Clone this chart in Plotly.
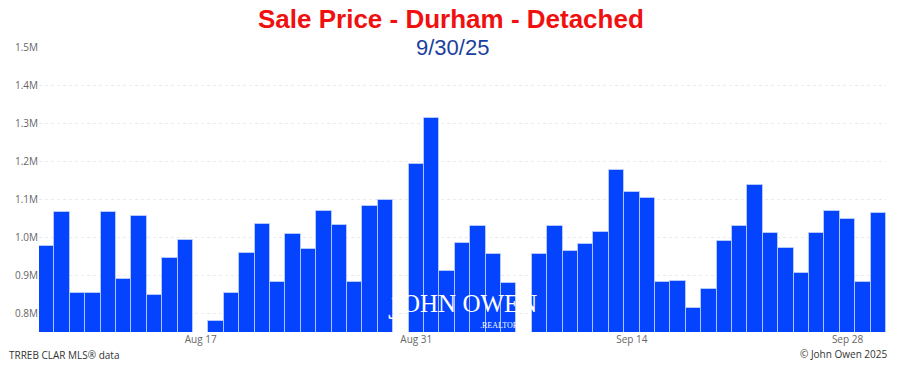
import pandas as pd
import plotly.graph_objects as go

# ---- data ----
dates = pd.date_range("2025-08-07", "2025-09-30", freq="D")
prices = [
    976000, 1065000, 853000, 853000, 1065000, 890000, 1056000, 848000, 946000, 991000,
    None,
    778000, 853000, 957000, 1033000, 881000, 1007000, 969000, 1068000, 1032000, 882000, 1081000, 1097000,
    None,
    1193000, 1312000, 910000, 983000, 1030000, 955000, 880000,
    None,
    954000, 1028000, 962000, 981000, 1013000, 1176000, 1119000, 1102000, 881000, 884000,
    813000, 864000, 989000, 1030000, 1137000, 1010000, 972000, 906000, 1010000, 1069000,
    1048000, 881000, 1062000,
]
x_tick_dates = ["2025-08-17", "2025-08-31", "2025-09-14", "2025-09-28"]
x_tick_labels = ["Aug 17", "Aug 31", "Sep 14", "Sep 28"]
y_tick_vals = [800000, 900000, 1000000, 1100000, 1200000, 1300000, 1400000, 1500000]
y_tick_labels = ["0.8M", "0.9M", "1.0M", "1.1M", "1.2M", "1.3M", "1.4M", "1.5M"]

title_text = "Sale Price - Durham - Detached"
date_text = "9/30/25"
source_text = "TRREB CLAR MLS\u00ae data"
copyright_text = "\u00a9 John Owen 2025"

fig = go.Figure(
    go.Bar(
        x=dates,
        y=prices,
        marker=dict(color="#0444FF", line=dict(color="rgba(200,215,255,0.75)", width=1)),
        hoverinfo="x+y",
    )
)

W, H = 897, 366
L, R, T, B = 39, 11, 47, 34

fig.update_layout(
    width=W,
    height=H,
    margin=dict(l=L, r=R, t=T, b=B),
    paper_bgcolor="white",
    plot_bgcolor="white",
    bargap=0,
    showlegend=False,
    font=dict(family="Open Sans", size=10, color="#666666"),
    xaxis=dict(
        type="date",
        range=["2025-08-06 12:00", "2025-09-30 12:00"],
        tickvals=x_tick_dates,
        ticktext=x_tick_labels,
        showgrid=False,
        zeroline=False,
        showline=False,
        ticks="",
        tickfont=dict(family="Open Sans", size=10, color="#666666"),
    ),
    yaxis=dict(
        range=[750000, 1500000],
        tickvals=y_tick_vals,
        ticktext=y_tick_labels,
        showgrid=True,
        gridcolor="#ebebeb",
        griddash="dot",
        gridwidth=1,
        zeroline=False,
        showline=False,
        ticks="",
        tickfont=dict(family="Open Sans", size=10, color="#666666"),
    ),
)

fig.add_annotation(
    text=title_text, xref="paper", yref="paper", x=0.487, y=1.097,
    xanchor="center", yanchor="middle", showarrow=False,
    font=dict(family="Liberation Sans", size=26, color="#F01010", weight="bold"),
)
fig.add_annotation(
    text=date_text, xref="paper", yref="paper", x=0.488, y=1.0,
    xanchor="center", yanchor="middle", showarrow=False,
    font=dict(family="Liberation Sans", size=22, color="#1B3F9E"),
)
fig.add_annotation(
    text=source_text, xref="paper", yref="paper", x=-0.038, y=-0.082,
    xanchor="left", yanchor="middle", showarrow=False,
    font=dict(family="Open Sans", size=10, color="#333333"),
)
fig.add_annotation(
    text=copyright_text, xref="paper", yref="paper", x=1.005, y=-0.076,
    xanchor="right", yanchor="middle", showarrow=False,
    font=dict(family="Open Sans", size=10, color="#333333"),
)
# watermark logo (text approximation)
fig.add_annotation(
    text="J", xref="paper", yref="paper",
    x=0.41, y=0.015, xanchor="left", yanchor="bottom", showarrow=False,
    font=dict(family="Liberation Serif", size=32, color="white"),
)
fig.add_annotation(
    text="OHN OWEN", xref="paper", yref="paper",
    x=0.426, y=0.045, xanchor="left", yanchor="bottom", showarrow=False,
    font=dict(family="Liberation Serif", size=25, color="white"),
)
fig.add_annotation(
    text=".REALTOR", xref="paper", yref="paper",
    x=0.518, y=0.0, xanchor="left", yanchor="bottom", showarrow=False,
    font=dict(family="Liberation Serif", size=8, color="white"),
)

fig.write_html("out.html")
